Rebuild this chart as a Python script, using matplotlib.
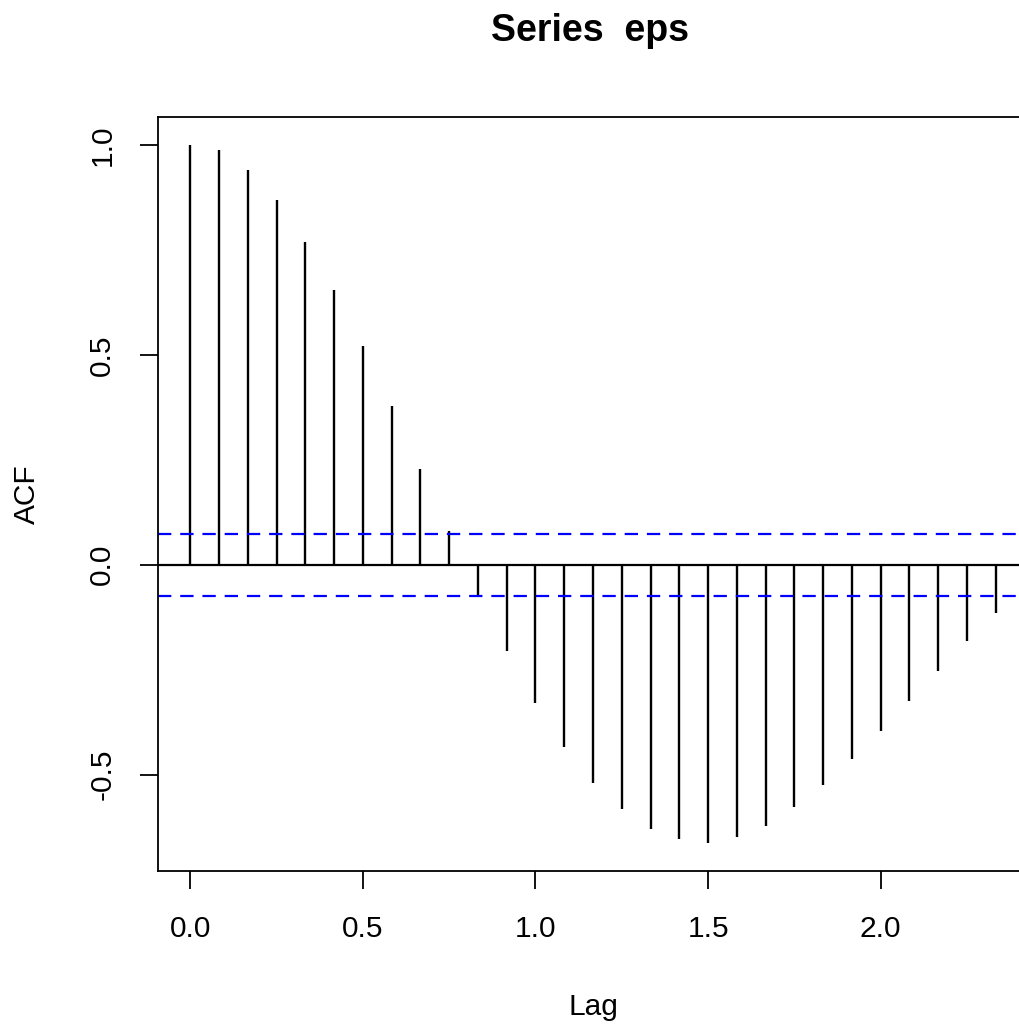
import numpy as np
import matplotlib
matplotlib.use("Agg")
import matplotlib.pyplot as plt

plt.rcParams['font.family'] = ['Liberation Sans', 'DejaVu Sans']

# ACF values, lags 0..28 (monthly, lag in years)
acf_vals = [1.000, 0.988, 0.940, 0.869, 0.768, 0.654, 0.520, 0.377, 0.229, 0.081,
            -0.074, -0.205, -0.329, -0.434, -0.520, -0.582, -0.630, -0.654, -0.663,
            -0.649, -0.623, -0.578, -0.525, -0.463, -0.396, -0.324, -0.253, -0.181,
            -0.115]
lags = np.arange(len(acf_vals)) / 12.0
ci = 0.074
xticks = [0.0, 0.5, 1.0, 1.5, 2.0]
yticks = [-0.5, 0.0, 0.5, 1.0]

fig = plt.figure(figsize=(10.2, 10.25), dpi=100)
ax = fig.add_axes([158 / 1020, 1 - 871 / 1025, 870 / 1020, 754 / 1025])

ax.vlines(lags, 0, acf_vals, color='black', lw=1.7)
ax.axhline(0, color='black', lw=1.6)
ax.axhline(ci, color='blue', lw=1.6, ls=(0, (6, 4)))
ax.axhline(-ci, color='blue', lw=1.6, ls=(0, (6, 4)))

xr = lags[-1] - lags[0]
ax.set_xlim(lags[0] - 0.04 * xr, lags[-1] + 0.04 * xr)
ymin, ymax = min(acf_vals), max(acf_vals)
yr = ymax - ymin
ax.set_ylim(ymin - 0.04 * yr, ymax + 0.04 * yr)

ax.set_xticks(xticks)
ax.set_xticklabels([f"{t:.1f}" for t in xticks])
ax.set_yticks(yticks)
ax.set_yticklabels([f"{t:.1f}" for t in yticks], rotation=90, va='center')
ax.tick_params(direction='out', length=13, width=1.3, labelsize=21.5)
ax.tick_params(axis='x', pad=19)
ax.tick_params(axis='y', pad=17)
for s in ax.spines.values():
    s.set_linewidth(1.3)

ax.set_xlabel("Lag", fontsize=21.5, labelpad=36)
ax.set_ylabel("ACF", fontsize=21.5, labelpad=34)
fig.text(590 / 1020, 1 - 31 / 1025, "Series  eps", ha='center', va='center',
         fontsize=27, fontweight='bold')

fig.savefig("out.png", dpi=100)
